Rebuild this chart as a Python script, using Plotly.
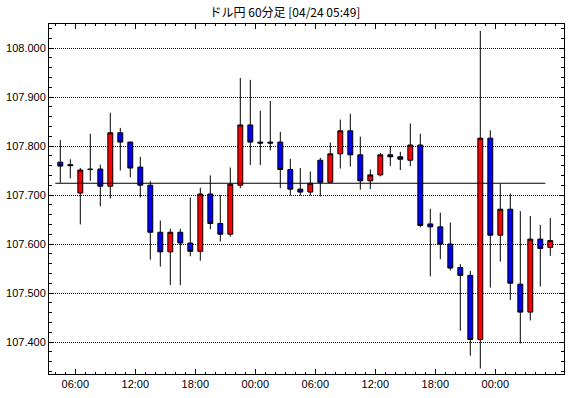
import pandas as pd
import plotly.graph_objects as go

# ---- data (USD/JPY 60-minute candles) ----
start_time = "2020-04-22 04:00"
n_candles = 50
opens = [107.767, 107.762, 107.704, 107.753, 107.753, 107.718, 107.827, 107.808, 107.757, 107.720,
         107.624, 107.584, 107.624, 107.602, 107.585, 107.702, 107.642, 107.620, 107.720, 107.843,
         107.808, 107.808, 107.808, 107.752, 107.712, 107.706, 107.771, 107.726, 107.784, 107.831,
         107.782, 107.729, 107.741, 107.782, 107.778, 107.771, 107.802, 107.641, 107.635, 107.600,
         107.552, 107.536, 107.405, 107.816, 107.618, 107.671, 107.518, 107.461, 107.610, 107.593]
highs = [107.812, 107.773, 107.755, 107.825, 107.762, 107.868, 107.837, 107.809, 107.778, 107.728,
         107.648, 107.631, 107.631, 107.695, 107.715, 107.740, 107.700, 107.756, 107.939, 107.935,
         107.872, 107.892, 107.829, 107.774, 107.755, 107.748, 107.776, 107.807, 107.854, 107.866,
         107.819, 107.752, 107.786, 107.800, 107.788, 107.846, 107.825, 107.672, 107.664, 107.644,
         107.559, 107.545, 108.035, 107.832, 107.723, 107.703, 107.667, 107.657, 107.639, 107.653]
lows = [107.725, 107.734, 107.640, 107.729, 107.677, 107.693, 107.750, 107.736, 107.695, 107.568,
        107.554, 107.516, 107.516, 107.575, 107.566, 107.630, 107.605, 107.615, 107.714, 107.761,
        107.761, 107.791, 107.714, 107.699, 107.699, 107.699, 107.697, 107.726, 107.754, 107.758,
        107.711, 107.712, 107.738, 107.759, 107.751, 107.759, 107.634, 107.534, 107.569, 107.546,
        107.423, 107.372, 107.346, 107.511, 107.564, 107.486, 107.397, 107.444, 107.513, 107.576]
closes = [107.759, 107.760, 107.751, 107.752, 107.718, 107.827, 107.808, 107.755, 107.720, 107.624,
          107.584, 107.624, 107.602, 107.585, 107.702, 107.642, 107.620, 107.722, 107.843, 107.808,
          107.806, 107.806, 107.752, 107.712, 107.706, 107.724, 107.726, 107.784, 107.831, 107.782,
          107.729, 107.741, 107.782, 107.778, 107.773, 107.802, 107.638, 107.635, 107.600, 107.551,
          107.536, 107.405, 107.816, 107.618, 107.671, 107.520, 107.461, 107.610, 107.591, 107.607]
ref_level = 107.724
y_ticks = [107.4, 107.5, 107.6, 107.7, 107.8, 107.9, 108.0]
x_tick_times = ["2020-04-22 06:00", "2020-04-22 12:00", "2020-04-22 18:00", "2020-04-23 00:00",
                "2020-04-23 06:00", "2020-04-23 12:00", "2020-04-23 18:00", "2020-04-24 00:00"]
x_tick_labels = ["06:00", "12:00", "18:00", "00:00", "06:00", "12:00", "18:00", "00:00"]
title_text = "ドル円 60分足 [04/24 05:49]"

times = pd.date_range(start_time, periods=n_candles, freq="h")
hour = pd.Timedelta(hours=1)

fig = go.Figure()
fig.add_trace(go.Candlestick(
    x=times, open=opens, high=highs, low=lows, close=closes,
    xperiod=3600000, xperiodalignment="middle",
    increasing=dict(fillcolor="#ff0000", line=dict(color="#000000", width=1)),
    decreasing=dict(fillcolor="#0000ff", line=dict(color="#000000", width=1)),
    whiskerwidth=0, showlegend=False, hoverinfo="skip",
))
fig.add_trace(go.Scatter(
    x=[times[0], times[-1]], y=[ref_level, ref_level], mode="lines",
    line=dict(color="#000000", width=1), showlegend=False, hoverinfo="skip",
))

font_main = "Liberation Sans, Arial, sans-serif"
x_lo = times[0] - 0.63 * hour
x_hi = times[-1] + 1.87 * hour

fig.update_layout(
    width=570, height=398,
    margin=dict(l=49, r=6, t=24, b=24),
    paper_bgcolor="white", plot_bgcolor="white",
    title=dict(text=title_text, x=0.5, xanchor="center", y=0.967, yanchor="middle",
               font=dict(family="Noto Sans CJK JP", size=12, color="#000000")),
    xaxis=dict(
        type="date", range=[x_lo, x_hi], rangeslider=dict(visible=False),
        tickmode="array", tickvals=x_tick_times, ticktext=x_tick_labels,
        ticks="inside", ticklen=5, tickcolor="#000000", tickwidth=1,
        minor=dict(tickmode="linear", tick0="2020-04-22 00:00", dtick=3600000,
                   ticks="inside", ticklen=2, tickcolor="#000000", showgrid=False),
        showgrid=False, zeroline=False, showline=True, linecolor="#000000", linewidth=1,
        mirror="ticks", automargin=False,
        tickfont=dict(family=font_main, size=11, color="#000000"),
    ),
    yaxis=dict(
        range=[107.3347, 108.049], tickvals=y_ticks, tickformat=".3f",
        ticks="inside", ticklen=5, tickcolor="#000000", tickwidth=1,
        minor=dict(dtick=0.02, tick0=107.4, ticks="inside", ticklen=3, tickcolor="#000000", showgrid=False),
        showgrid=True, gridcolor="#000000", gridwidth=1, griddash="1px,1px",
        zeroline=False, showline=True, linecolor="#000000", linewidth=1,
        mirror="ticks", automargin=False,
        tickfont=dict(family=font_main, size=11, color="#000000"),
    ),
)

fig.write_html("out.html", config={"displayModeBar": False},
               post_script="document.body.style.margin='0px';")
